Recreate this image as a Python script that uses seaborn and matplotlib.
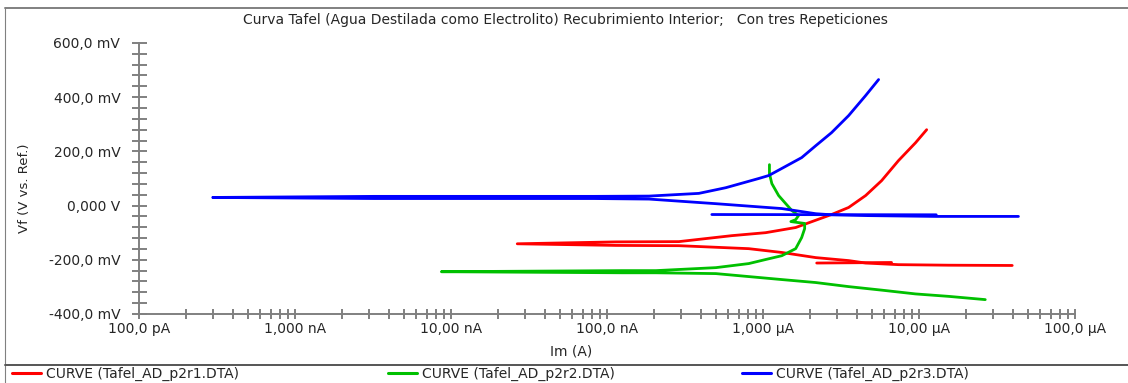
import pandas as pd
import seaborn as sns
import matplotlib.pyplot as plt
from matplotlib.lines import Line2D
from matplotlib.ticker import LogLocator, MultipleLocator, NullFormatter

title = "Curva Tafel (Agua Destilada como Electrolito) Recubrimiento Interior;   Con tres Repeticiones"
curve_names = ["CURVE (Tafel_AD_p2r1.DTA)", "CURVE (Tafel_AD_p2r2.DTA)", "CURVE (Tafel_AD_p2r3.DTA)"]
colors = ["#ff0000", "#00c000", "#0000ff"]

xticks = [1e-10, 1e-9, 1e-8, 1e-7, 1e-6, 1e-5, 1e-4]
xtick_labels = ["100,0 pA", "1,000 nA", "10,00 nA", "100,0 nA", "1,000 µA", "10,00 µA", "100,0 µA"]
yticks = [-400, -200, 0, 200, 400, 600]
ytick_labels = ["-400,0 mV", "-200,0 mV", "0,000 V", "200,0 mV", "400,0 mV", "600,0 mV"]

# current in A, potential in mV
r1_main_i = [3.96e-5, 1.55e-5, 7.39e-6, 4.55e-6, 3.54e-6, 2.18e-6, 1.32e-6, 8.11e-7, 2.89e-7, 1.14e-7,
             2.66e-8, 1.14e-7, 2.89e-7, 6.31e-7, 1.04e-6, 1.62e-6, 1.91e-6, 2.75e-6, 3.54e-6, 4.55e-6,
             5.76e-6, 7.39e-6, 9.51e-6, 1.12e-5]
r1_main_v = [-221, -220, -218, -212, -203, -192, -173, -159, -148, -147,
             -141, -134, -133, -111, -100, -81, -66, -33, -7, 37,
             92, 166, 232, 280]
r1_tail_i = [2.21e-6, 6.67e-6]
r1_tail_v = [-212, -210]

r2_main_i = [2.66e-5, 1.55e-5, 9.51e-6, 5.76e-6, 3.54e-6, 2.18e-6, 1.32e-6, 8.11e-7, 4.99e-7, 2.06e-7,
             1.25e-7, 8.68e-9, 1.25e-7, 2.06e-7, 4.99e-7, 8.11e-7, 1.04e-6, 1.32e-6, 1.62e-6, 1.77e-6,
             1.85e-6, 1.85e-6, 1.51e-6, 1.62e-6, 1.69e-6, 1.53e-6, 1.40e-6, 1.26e-6, 1.14e-6, 1.10e-6,
             1.10e-6]
r2_main_v = [-347, -335, -326, -312, -299, -284, -273, -262, -251, -248,
             -248, -244, -240, -240, -229, -214, -199, -185, -159, -118,
             -85, -66, -59, -52, -37, -18, 7, 37, 81, 118,
             151]

r3_main_i = [4.34e-5, 1.29e-5, 4.70e-6, 2.75e-6, 2.18e-6, 1.32e-6, 4.99e-7, 1.86e-7, 8.26e-8, 3.24e-9,
             2.97e-10, 3.24e-9, 8.26e-8, 1.86e-7, 3.88e-7, 5.78e-7, 9.40e-7, 1.09e-6, 1.32e-6, 1.77e-6,
             2.18e-6, 2.75e-6, 3.54e-6, 4.55e-6, 5.51e-6]
r3_main_v = [-40, -40, -37, -34, -30, -11, 7, 24, 26, 26,
             30, 34, 34, 35, 45, 66, 100, 111, 137, 177,
             221, 269, 332, 406, 465]
r3_tail_i = [4.70e-7, 1.29e-5]
r3_tail_v = [-33, -34]

segments = [
    (curve_names[0], "main", r1_main_i, r1_main_v),
    (curve_names[0], "tail", r1_tail_i, r1_tail_v),
    (curve_names[1], "main", r2_main_i, r2_main_v),
    (curve_names[2], "main", r3_main_i, r3_main_v),
    (curve_names[2], "tail", r3_tail_i, r3_tail_v),
]
df = pd.concat([
    pd.DataFrame({"curve": c, "seg": s, "current": i, "potential": v})
    for c, s, i, v in segments
], ignore_index=True)

sns.set_style("white")
plt.rcParams["font.family"] = ["DejaVu Sans"]
fs = 10
gray = "#808080"

fig = plt.figure(figsize=(11.28, 3.83), dpi=100)
ax = fig.add_axes([0.1232, 0.1802, 0.8298, 0.7076])
ax.set_xscale("log")
sns.lineplot(
    data=df, x="current", y="potential", hue="curve", units="seg",
    estimator=None, sort=False, hue_order=curve_names, palette=colors,
    linewidth=2.0, legend=False, ax=ax
)

ax.set_xlim(1e-10, 1e-4)
ax.set_ylim(-400, 600)
ax.set_xticks(xticks, xtick_labels)
ax.xaxis.set_minor_locator(LogLocator(base=10, subs=range(2, 10), numticks=20))
ax.xaxis.set_minor_formatter(NullFormatter())
ax.set_yticks(yticks, ytick_labels)
ax.yaxis.set_minor_locator(MultipleLocator(40))
ax.set_xlabel("")
ax.set_ylabel("")

for side in ["top", "right"]:
    ax.spines[side].set_visible(False)
for side in ["left", "bottom"]:
    ax.spines[side].set_color(gray)
    ax.spines[side].set_linewidth(1.4)

ax.tick_params(axis="x", which="both", bottom=True, direction="inout", length=7.2, width=1.4,
               color=gray, labelsize=fs, pad=2)
ax.tick_params(axis="y", which="both", left=True, direction="inout", length=10.8, width=1.4,
               color=gray, labelsize=fs, pad=8)

fig.text(0.501, 0.948, title, ha="center", va="center", fontsize=fs)
fig.text(0.022, 0.509, "Vf (V vs. Ref.)", ha="center", va="center", rotation=90, fontsize=9.5)
fig.text(0.506, 0.081, "Im (A)", ha="center", va="center", fontsize=fs)

# frame around the chart area and the legend strip
fig.add_artist(Line2D([0.0044, 1], [0.979, 0.979], transform=fig.transFigure, color=gray, lw=1.4))
fig.add_artist(Line2D([0.0044, 0.0044], [0, 0.979], transform=fig.transFigure, color=gray, lw=0.8))
fig.add_artist(Line2D([0.0044, 1], [0.047, 0.047], transform=fig.transFigure, color="#555555", lw=1.4))

legend_x = [0.0106, 0.344, 0.658]
for name, col, lx in zip(curve_names, colors, legend_x):
    fig.legend([Line2D([], [], color=col, lw=2.2)], [name], loc="center left",
               bbox_to_anchor=(lx, 0.024), frameon=False, fontsize=10,
               handlelength=2.1, handletextpad=0.35, borderpad=0, borderaxespad=0)

fig.savefig("out.png", dpi=100)
